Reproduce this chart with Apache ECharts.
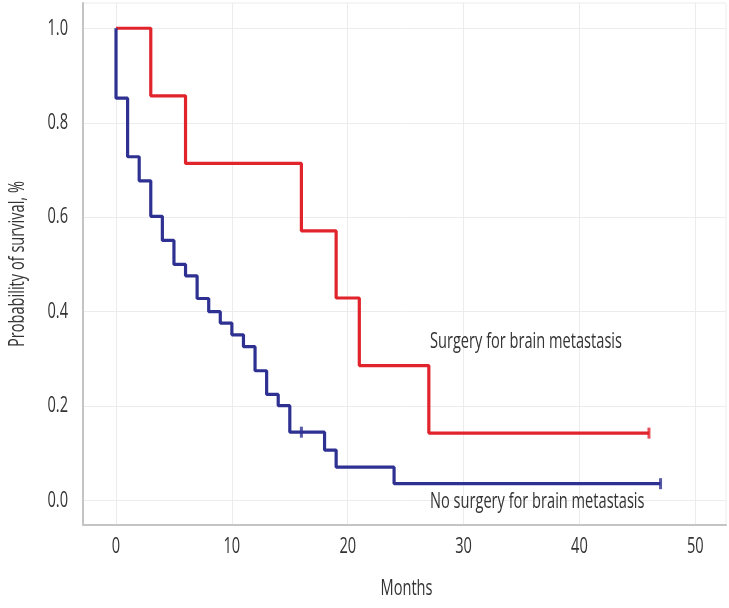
<!DOCTYPE html>
<html><head><meta charset="utf-8">
<script src="https://cdn.jsdelivr.net/npm/echarts@6/dist/echarts.min.js"></script>
<style>html,body{margin:0;padding:0;background:#fff}#c{width:729px;height:608px}</style>
</head><body><div id="c"></div>
<script>
// Kaplan-Meier steps: surgery for brain metastasis
const surgeryTimes = [0, 3, 6, 16, 19, 21, 27, 46];
const surgerySurv  = [1.0, 0.857, 0.714, 0.571, 0.429, 0.286, 0.143, 0.143];
const surgeryCensorTimes = [46];
const surgeryCensorSurv  = [0.143];
// No surgery for brain metastasis
const noSurgTimes = [0, 0, 1, 2, 3, 4, 5, 6, 7, 8, 9, 10, 11, 12, 13, 14, 15, 18, 19, 24, 47];
const noSurgSurv  = [1.0, 0.852, 0.728, 0.677, 0.602, 0.551, 0.5, 0.476, 0.428, 0.4, 0.376, 0.351, 0.326, 0.275, 0.225, 0.201, 0.145, 0.107, 0.071, 0.036, 0.036];
const noSurgCensorTimes = [16, 47];
const noSurgCensorSurv  = [0.145, 0.036];
// axis ticks
const xTicks = [0, 10, 20, 30, 40, 50];
const yTicks = [0.0, 0.2, 0.4, 0.6, 0.8, 1.0];
const xTickLabels = ['0', '10', '20', '30', '40', '50'];
const yTickLabels = ['0.0', '0.2', '0.4', '0.6', '0.8', '1.0'];
const xTitle = 'Months';
const yTitle = 'Probability of survival, %';
// annotations
const labelTexts = ['Surgery for brain metastasis', 'No surgery for brain metastasis'];
const labelX = [27.1, 27.1];
const labelY = [0.336, -0.002];

const RED = '#e1232b', BLUE = '#2e3192';
const FONT = '"Open Sans","Noto Sans",sans-serif';
const FS = 22;
const zip = (a, b) => a.map((v, i) => [v, b[i]]);

// condensed look: horizontal squeeze derived from reference annotation width
const cv = document.createElement('canvas').getContext('2d');
cv.font = FS + 'px ' + FONT;
const SX = 192 / cv.measureText(labelTexts[0]).width;

const chart = echarts.init(document.getElementById('c'), null, {renderer: 'canvas'});
chart.setOption({
  animation: false,
  backgroundColor: '#fff',
  grid: {left: 83, right: 3, top: 3, bottom: 83, show: true, borderColor: '#ececec', borderWidth: 1},
  xAxis: {
    type: 'value', min: -2.85, max: 52.65,
    axisLine: {show: true, onZero: false, lineStyle: {color: '#c4c4c4', width: 2}},
    axisTick: {show: false, customValues: xTicks},
    axisLabel: {show: false, customValues: xTicks},
    splitLine: {show: true, lineStyle: {color: '#ececec', width: 1}}
  },
  yAxis: {
    type: 'value', min: -0.0515, max: 1.0535,
    axisLine: {show: true, onZero: false, lineStyle: {color: '#c4c4c4', width: 2}},
    axisTick: {show: false, customValues: yTicks},
    axisLabel: {show: false, customValues: yTicks},
    splitLine: {show: true, lineStyle: {color: '#ececec', width: 1}}
  },
  series: [
    {type: 'line', step: 'end', data: zip(surgeryTimes, surgerySurv), showSymbol: false,
      lineStyle: {color: RED, width: 3.2}, itemStyle: {color: RED}, z: 3},
    {type: 'line', step: 'end', data: zip(noSurgTimes, noSurgSurv), showSymbol: false,
      lineStyle: {color: BLUE, width: 3.2}, itemStyle: {color: BLUE}, z: 3},
    {type: 'scatter', data: zip(surgeryCensorTimes, surgeryCensorSurv), symbol: 'rect', symbolSize: [3, 11],
      itemStyle: {color: RED}, z: 4, silent: true},
    {type: 'scatter', data: zip(noSurgCensorTimes, noSurgCensorSurv), symbol: 'rect', symbolSize: [3, 11],
      itemStyle: {color: BLUE}, z: 4, silent: true}
  ]
});

const px = (x, y) => chart.convertToPixel({gridIndex: 0}, [x, y]);
const txt = (text, x, y, align, extra) => Object.assign({
  type: 'text', x: x, y: y, scaleX: SX, silent: true, z: 10,
  style: {text: text, fontFamily: FONT, fontSize: FS, fill: '#333333', align: align, textAlign: align,
    verticalAlign: 'middle', textVerticalAlign: 'middle'}
}, extra || {});

const g = [];
const xAxisPix = px(0, -0.0515)[1];
const yAxisPix = px(-2.85, 0)[0];
xTicks.forEach((t, i) => { g.push(txt(xTickLabels[i], px(t, 0)[0], xAxisPix + 22, 'center')); });
yTicks.forEach((t, i) => { g.push(txt(yTickLabels[i], yAxisPix - 15, px(0, t)[1], 'right')); });
const gridMidX = (px(-2.85, 0)[0] + px(52.65, 0)[0]) / 2;
const gridMidY = (px(0, -0.0515)[1] + px(0, 1.0535)[1]) / 2;
g.push(txt(xTitle, gridMidX + 2, xAxisPix + 64, 'center', {}));
g.push(txt(yTitle, 18, gridMidY, 'center', {rotation: Math.PI / 2}));
labelTexts.forEach((s, i) => { const p = px(labelX[i], labelY[i]); g.push(txt(s, p[0], p[1], 'left')); });
chart.setOption({graphic: g});
</script></body></html>
